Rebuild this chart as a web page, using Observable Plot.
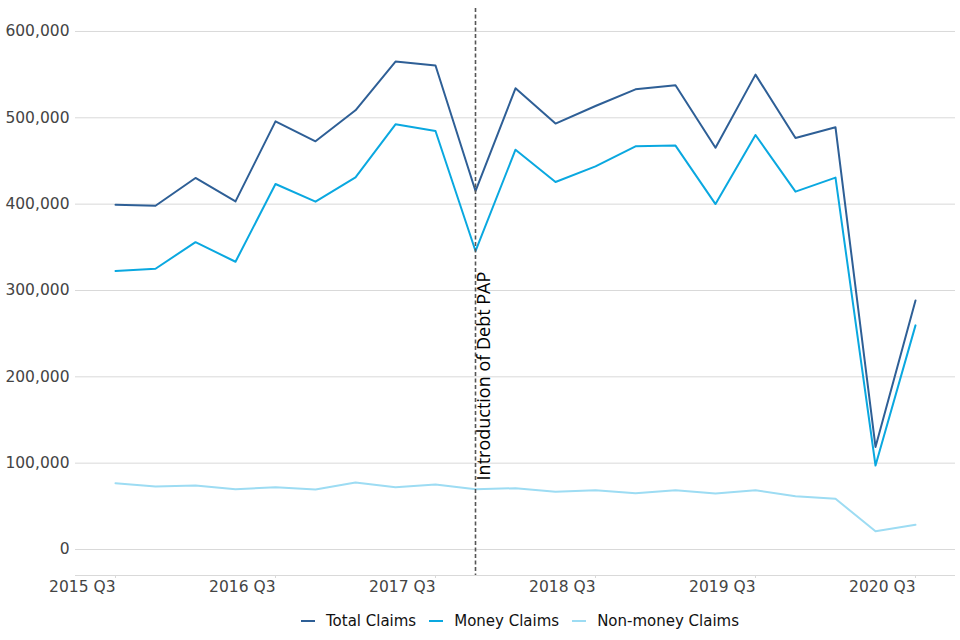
<!DOCTYPE html>
<html>
<head>
<meta charset="utf-8">
<script src="https://cdn.jsdelivr.net/npm/d3@7"></script>
<script src="https://cdn.jsdelivr.net/npm/@observablehq/plot@0.6"></script>
<style>
  body { margin: 0; background: #fff; font-family: "DejaVu Sans", sans-serif; }
  #legend { display: flex; justify-content: center; align-items: center; gap: 13px; height: 42px; font-size: 15px; color: #111; padding-left: 80px; box-sizing: border-box; width: 960px; }
  .item { display: flex; align-items: center; gap: 11px; }
  .sw { width: 14px; height: 0; border-top: 2.5px solid; }
</style>
</head>
<body>
<div id="chart"></div>
<div id="legend"></div>
<script>
const quarters = ["2015 Q3","2015 Q4","2016 Q1","2016 Q2","2016 Q3","2016 Q4","2017 Q1","2017 Q2","2017 Q3","2017 Q4","2018 Q1","2018 Q2","2018 Q3","2018 Q4","2019 Q1","2019 Q2","2019 Q3","2019 Q4","2020 Q1","2020 Q2","2020 Q3"];
const totalClaims = [399300, 398200, 430300, 403200, 495900, 472800, 508700, 565100, 560500, 415200, 534200, 493300, 513700, 533000, 537700, 465400, 550000, 476600, 489000, 118800, 288500];
const moneyClaims = [322500, 325200, 356000, 333300, 423300, 402900, 431000, 492500, 484700, 345700, 463100, 425600, 443800, 467000, 467800, 400100, 480100, 414500, 430700, 97300, 259600];
const nonMoneyClaims = [76800, 73000, 74200, 69900, 72200, 69500, 77600, 72200, 75300, 69900, 71000, 66800, 68700, 65200, 68700, 64900, 68700, 61800, 58700, 21200, 28600];
const seriesNames = ["Total Claims", "Money Claims", "Non-money Claims"];
const seriesColors = ["#2e5f96", "#0aa8e0", "#9ddcf3"];
const tickQuarters = ["2015 Q3","2016 Q3","2017 Q3","2018 Q3","2019 Q3","2020 Q3"];
const eventQuarter = "2017 Q4";
const eventLabel = "Introduction of Debt PAP";

const seriesValues = [totalClaims, moneyClaims, nonMoneyClaims];
const rows = [];
seriesNames.forEach((name, s) => {
  seriesValues[s].forEach((v, i) => rows.push({series: name, i, value: v}));
});
const idx = q => quarters.indexOf(q);
const yDomain = [-30100, 626600];

const chart = Plot.plot({
  width: 960,
  height: 600,
  marginTop: 8,
  marginBottom: 25,
  marginLeft: 75,
  marginRight: 5,
  style: {fontFamily: "DejaVu Sans, sans-serif", fontSize: "15px", color: "#444", background: "#fff"},
  x: {type: "linear", domain: [-1, quarters.length], label: null},
  y: {domain: yDomain, label: null},
  color: {domain: seriesNames, range: seriesColors},
  marks: [
    Plot.gridY({ticks: d3.range(0, 600001, 100000), stroke: "#d9d9d9", strokeOpacity: 1, strokeWidth: 1}),
    Plot.axisY({ticks: d3.range(0, 600001, 100000), tickSize: 0, tickPadding: 6, tickFormat: d => d3.format(",")(d), fill: "#444", fontSize: 15.5, label: null}),
    Plot.ruleY([yDomain[0]], {stroke: "#d9d9d9", strokeWidth: 1}),
    Plot.axisX({ticks: tickQuarters.map(idx), tickFormat: i => quarters[i], tickSize: 3, tickPadding: 2, textAnchor: "end", stroke: "#d9d9d9", fill: "#444", fontSize: 15.5, label: null}),
    Plot.lineY(rows, {x: "i", y: "value", z: "series", stroke: "series", strokeWidth: 2}),
    Plot.ruleX([idx(eventQuarter)], {stroke: "#555", strokeWidth: 1.6, strokeDasharray: "4,2.5"}),
    Plot.text([eventLabel], {x: idx(eventQuarter), y: 80000, text: d => d, rotate: -90, textAnchor: "start", lineAnchor: "top", dx: 2, fontSize: 18, fill: "#000", fontFamily: "'Open Sans', sans-serif"})
  ]
});
document.getElementById("chart").appendChild(chart);

const legend = document.getElementById("legend");
seriesNames.forEach((name, s) => {
  const it = document.createElement("div");
  it.className = "item";
  const sw = document.createElement("span");
  sw.className = "sw";
  sw.style.borderTopColor = seriesColors[s];
  const lb = document.createElement("span");
  lb.textContent = name;
  it.appendChild(sw); it.appendChild(lb);
  legend.appendChild(it);
});
</script>
</body>
</html>
